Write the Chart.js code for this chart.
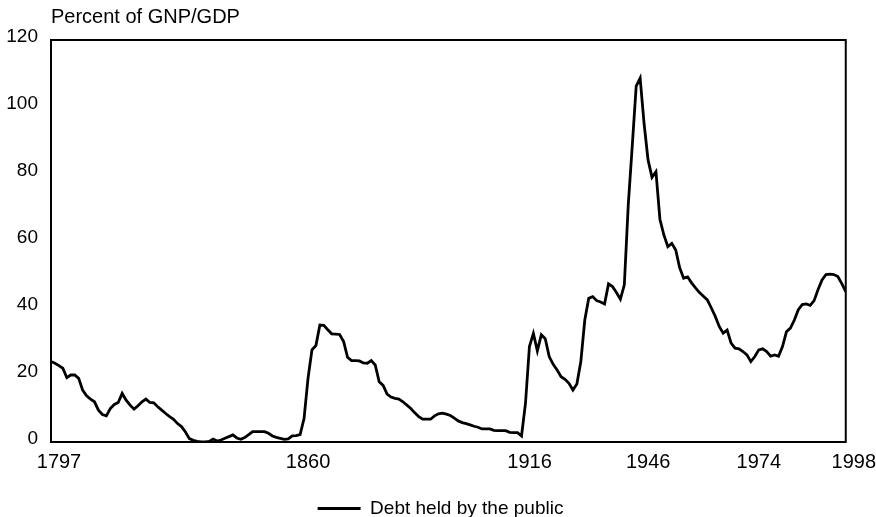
<!DOCTYPE html>
<html>
<head>
<meta charset="utf-8">
<script src="https://cdn.jsdelivr.net/npm/chart.js@4"></script>
<style>
    html, body { margin: 0; padding: 0; background: #fff; }
    #wrap { width: 876px; height: 517px; }
</style>
</head>
<body>
<div id="wrap"><canvas id="myChart"></canvas></div>
<script>
/* data */
const firstYear = 1797;
const lastYear = 1998;
const tickYears = [1797, 1860, 1916, 1946, 1974, 1998];
const yTicks = [0, 20, 40, 60, 80, 100, 120];
const seriesName = 'Debt held by the public';

// percent of GNP/GDP, one value per year from 1797 to 1998
const debt = [
    24.0, 23.5, 22.8,
    22.0, 19.2, 20.0, 20.0, 19.0, 15.5, 13.8, 12.8, 12.0, 9.5,
    8.2, 7.8, 10.0, 11.2, 11.8, 14.5, 12.5, 11.0, 9.8, 10.8,
    12.0, 12.8, 11.8, 11.7, 10.5, 9.5, 8.5, 7.6, 6.8, 5.5,
    4.6, 3.0, 1.0, 0.5, 0.2, 0.0, 0.0, 0.2, 0.9, 0.3,
    0.6, 1.1, 1.6, 2.1, 1.2, 0.8, 1.3, 2.2, 3.1, 3.1,
    3.1, 3.1, 2.6, 1.8, 1.4, 1.1, 0.8, 0.9, 1.8, 1.9,
    2.2, 7.0, 19.0, 27.5, 28.8, 34.9, 34.8, 33.5, 32.3, 32.2,
    32.1, 30.0, 25.3, 24.3, 24.3, 24.2, 23.6, 23.5, 24.3, 23.0,
    18.0, 16.9, 14.3, 13.4, 13.0, 12.8, 12.0, 11.0, 10.0, 8.7,
    7.6, 6.8, 6.8, 6.8, 7.8, 8.4, 8.6, 8.3, 7.9, 7.1,
    6.3, 5.8, 5.5, 5.1, 4.7, 4.4, 3.9, 3.9, 3.9, 3.5,
    3.4, 3.4, 3.4, 2.9, 2.8, 2.8, 1.8, 11.5, 28.5, 32.4,
    27.2, 32.0, 30.8, 25.5, 23.2, 21.5, 19.5, 18.7, 17.5, 15.5,
    17.3, 24.0, 36.4, 42.9, 43.4, 42.2, 41.8, 41.2, 47.2, 46.4,
    44.6, 42.6, 46.9, 70.9, 88.3, 106.2, 108.6, 95.0, 84.2, 79.0,
    80.7, 66.5, 61.8, 58.3, 59.3, 57.3, 52.0, 48.9, 49.3, 47.5,
    46.0, 44.6, 43.5, 42.4, 40.0, 37.5, 34.5, 32.5, 33.4, 29.5,
    28.0, 27.8, 27.0, 26.0, 24.0, 25.5, 27.5, 27.8, 27.0, 25.6,
    26.0, 25.6, 28.5, 32.9, 34.0, 36.4, 39.5, 41.0, 41.2, 40.8,
    42.2, 45.5, 48.4, 50.0, 50.1, 50.0, 49.4, 47.3, 44.9
];

/* chart */
const fontFamily = '"Liberation Sans", Arial, sans-serif';

// box round the plot area
const boxBorder = {
    id: 'boxBorder',
    afterDraw(chart) {
        const a = chart.chartArea;
        const ctx = chart.ctx;
        ctx.save();
        ctx.strokeStyle = '#000';
        ctx.lineWidth = 2;
        ctx.strokeRect(a.left, a.top, a.right - a.left, a.bottom - a.top);
        ctx.restore();
    }
};

const points = debt.map(function(v, i) { return {x: firstYear + i, y: v}; });

const ctx = document.getElementById('myChart');
const myChart = new Chart(ctx, {
    type: 'line',
    data: {
        datasets: [{
            label: seriesName,
            data: points,
            borderColor: '#000',
            backgroundColor: '#000',
            borderWidth: 2.8,
            pointRadius: 0,
            tension: 0,
            fill: false
        }]
    },
    options: {
        responsive: true,
        maintainAspectRatio: false,
        animation: false,
        layout: {
            padding: {left: 5, right: 0, top: 0, bottom: -11}
        },
        plugins: {
            title: {
                display: true,
                text: 'Percent of GNP/GDP',
                align: 'start',
                fullSize: false,
                color: '#000',
                font: {family: fontFamily, size: 20, weight: 'normal', lineHeight: 1.2},
                padding: {top: 5, bottom: 11}
            },
            legend: {
                position: 'bottom',
                labels: {
                    color: '#000',
                    font: {family: fontFamily, size: 19},
                    usePointStyle: true,
                    pointStyle: 'line',
                    pointStyleWidth: 43,
                    padding: 0
                }
            },
            tooltip: {enabled: false}
        },
        scales: {
            x: {
                type: 'linear',
                min: firstYear,
                max: lastYear,
                afterBuildTicks: function(scale) {
                    scale.ticks = tickYears.map(function(v) { return {value: v}; });
                },
                afterFit: function(scale) { scale.height = 57; },
                grid: {display: false, drawTicks: false},
                border: {display: false},
                ticks: {
                    color: '#000',
                    font: {family: fontFamily, size: 20},
                    padding: 8,
                    labelOffset: 8,
                    maxRotation: 0,
                    autoSkip: false,
                    callback: function(v) { return String(v); }
                }
            },
            y: {
                min: yTicks[0],
                max: yTicks[yTicks.length - 1],
                afterBuildTicks: function(scale) {
                    scale.ticks = yTicks.map(function(v) { return {value: v}; });
                },
                afterFit: function(scale) { scale.width = 46; },
                grid: {display: false, drawTicks: false},
                border: {display: false},
                ticks: {
                    color: '#000',
                    font: {family: fontFamily, size: 19},
                    padding: 13,
                    labelOffset: -3
                }
            },
            // empty axis on the right, only keeps the gap after the plot
            yRight: {
                position: 'right',
                min: yTicks[0],
                max: yTicks[yTicks.length - 1],
                afterFit: function(scale) { scale.width = 30; },
                grid: {display: false, drawTicks: false},
                border: {display: false},
                ticks: {display: false}
            }
        }
    },
    plugins: [boxBorder]
});
</script>
</body>
</html>
